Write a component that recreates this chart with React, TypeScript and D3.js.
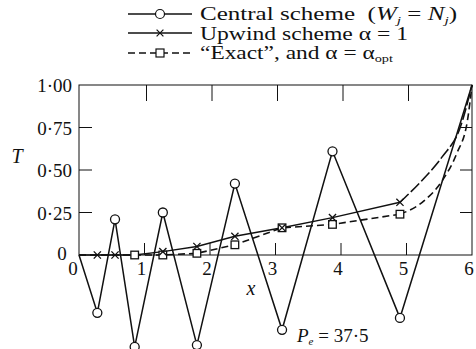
import * as d3 from "d3";

// grid nodes (x) and the three solutions
const nodes = [0, 0.28, 0.55, 0.85, 1.28, 1.8, 2.38, 3.1, 3.87, 4.9, 6];
const central = [0, -0.34, 0.21, -0.54, 0.25, -0.53, 0.42, -0.44, 0.61, -0.37, 1.0];

const upwindX = [0, 0.28, 0.55, 0.85, 1.28, 1.8, 2.38, 3.1, 3.87, 4.9, 5.24, 5.55, 5.81, 6];
const upwindT = [0, 0, 0, 0, 0.02, 0.05, 0.11, 0.16, 0.22, 0.31, 0.44, 0.58, 0.74, 1.0];
const upwindMarked = [0.28, 0.55, 1.28, 1.8, 2.38, 3.1, 3.87, 4.9];

const exactX = [0, 0.85, 1.28, 1.8, 2.38, 3.1, 3.87, 4.9, 5.24, 5.55, 5.77, 5.93, 6];
const exactT = [0, 0, 0, 0.01, 0.06, 0.16, 0.18, 0.24, 0.31, 0.44, 0.6, 0.79, 1.0];
const exactMarked = [0.85, 1.28, 1.8, 2.38, 3.1, 3.87, 4.9];

// last grid node before the curved boundary-layer part
const lastNode = 4.9;

const yTicks = [0.25, 0.5, 0.75];
const yTickLabels = ["0·25", "0·50", "0·75"];
const xTicks = [1, 2, 3, 4, 5];
const xTickLabels = ["1", "2", "3", "4", "5", "6"];

const W = 476;
const H = 349;
const ink = "#111";
const serif = '"Liberation Serif", "DejaVu Serif", serif';

export default function App() {
    const x = d3.scaleLinear().domain([0, 6]).range([79, 472]);
    const y = d3.scaleLinear().domain([0, 1]).range([255, 85]);

    const linePath = (xv: number[], tv: number[], curve: d3.CurveFactory) =>
        d3
            .line<number>()
            .x((d, i) => x(xv[i]))
            .y((d) => y(d))
            .curve(curve)(tv) ?? "";

    // straight between grid nodes / smooth into the boundary layer
    const head = (xv: number[], tv: number[]) => {
        const k = xv.indexOf(lastNode);
        return linePath(xv.slice(0, k + 1), tv.slice(0, k + 1), d3.curveLinear);
    };
    const tail = (xv: number[], tv: number[]) => {
        const k = xv.indexOf(lastNode);
        return linePath(xv.slice(k), tv.slice(k), d3.curveMonotoneX);
    };

    const at = (xv: number[], tv: number[], v: number) => tv[xv.indexOf(v)];

    const cross = (cx: number, cy: number, s = 3.6) =>
        `M${cx - s},${cy - s}L${cx + s},${cy + s}M${cx - s},${cy + s}L${cx + s},${cy - s}`;

    const [x0, x1] = x.range();
    const [y0, y1] = y.range();

    return (
        <svg
            width={W}
            height={H}
            style={{ position: "absolute", left: 0, top: 0, background: "#fff", fontFamily: serif }}
        >
            {/* frame */}
            <rect x={x0} y={y1} width={x1 - x0} height={y0 - y1} fill="none" stroke={ink} strokeWidth={1} />

            {/* inward ticks */}
            {yTicks.map((t) => (
                <g key={"yt" + t}>
                    <line x1={x0} x2={x0 + 13} y1={y(t)} y2={y(t)} stroke={ink} />
                    <line x1={x1} x2={x1 - 12} y1={y(t)} y2={y(t)} stroke={ink} />
                </g>
            ))}
            {xTicks.map((t) => (
                <g key={"xt" + t}>
                    <line x1={x(t) + 2} x2={x(t) + 2} y1={y1} y2={y1 + 16} stroke={ink} />
                    <line x1={x(t)} x2={x(t)} y1={y0} y2={y0 - 12} stroke={ink} />
                </g>
            ))}

            {/* y tick labels */}
            <text x={72} y={y(1) + 7} fontSize={19} textAnchor="end" fill={ink}>
                1·00
            </text>
            {yTicks.map((t, i) => (
                <text key={"yl" + t} x={72} y={y(t) + 7} fontSize={19} textAnchor="end" fill={ink}>
                    {yTickLabels[i]}
                </text>
            ))}
            <text x={62} y={y(0) + 5} fontSize={19} textAnchor="middle" fill={ink}>
                0
            </text>

            {/* x tick labels */}
            <text x={73} y={y(0) + 20} fontSize={19} textAnchor="middle" fill={ink}>
                0
            </text>
            {xTickLabels.map((l, i) => (
                <text key={"xl" + l} x={x(i + 1) - 3} y={y(0) + 20} fontSize={19} textAnchor="middle" fill={ink}>
                    {l}
                </text>
            ))}

            {/* axis titles */}
            <text x={17} y={163} fontSize={20} fontStyle="italic" textAnchor="middle" fill={ink}>
                T
            </text>
            <text x={251} y={295} fontSize={20} fontStyle="italic" textAnchor="middle" fill={ink}>
                x
            </text>
            <text x={297} y={342} fontSize={19} fill={ink}>
                <tspan fontStyle="italic">P</tspan>
                <tspan fontSize={11} fontStyle="italic" dy={3}>e</tspan>
                <tspan dy={-3}> = 37·5</tspan>
            </text>

            {/* exact / optimum: dashed with squares */}
            <path
                d={head(exactX, exactT) + tail(exactX, exactT)}
                fill="none"
                stroke={ink}
                strokeWidth={1.6}
                strokeDasharray="7,4"
            />
            {/* upwind: solid with crosses, long dashes in the boundary layer */}
            <path d={head(upwindX, upwindT)} fill="none" stroke={ink} strokeWidth={1.4} />
            <path d={tail(upwindX, upwindT)} fill="none" stroke={ink} strokeWidth={1.6} strokeDasharray="12,3" />
            {/* central scheme: zig-zag with circles */}
            <path d={linePath(nodes, central, d3.curveLinear)} fill="none" stroke={ink} strokeWidth={1.5} />

            {exactMarked.map((v) => (
                <rect
                    key={"sq" + v}
                    x={x(v) - 3.8}
                    y={y(at(exactX, exactT, v)) - 3.8}
                    width={7.6}
                    height={7.6}
                    fill="#fff"
                    stroke={ink}
                    strokeWidth={1.3}
                />
            ))}
            {upwindMarked.map((v) => (
                <path key={"cx" + v} d={cross(x(v), y(at(upwindX, upwindT, v)))} stroke={ink} strokeWidth={1.3} />
            ))}
            {nodes.slice(1, -1).map((v, i) => (
                <circle key={"c" + v} cx={x(v)} cy={y(central[i + 1])} r={4.5} fill="#fff" stroke={ink} strokeWidth={1.3} />
            ))}

            {/* legend */}
            <g>
                <line x1={128} x2={192} y1={14} y2={14} stroke={ink} strokeWidth={1.3} />
                <circle cx={160} cy={14} r={4.5} fill="#fff" stroke={ink} strokeWidth={1.2} />
                <text x={200} y={20} fontSize={18} fill={ink} textLength={257} lengthAdjust="spacingAndGlyphs">
                    Central scheme{"\u00a0\u00a0"}(<tspan fontStyle="italic">W</tspan>
                    <tspan fontSize={11} fontStyle="italic" dy={4}>j</tspan>
                    <tspan dy={-4}> = </tspan>
                    <tspan fontStyle="italic">N</tspan>
                    <tspan fontSize={11} fontStyle="italic" dy={4}>j</tspan>
                    <tspan dy={-4}>)</tspan>
                </text>

                <line x1={128} x2={192} y1={33} y2={33} stroke={ink} strokeWidth={1.3} />
                <path d={cross(160, 33, 3.4)} stroke={ink} strokeWidth={1.2} />
                <text x={200} y={40} fontSize={18} fill={ink} textLength={208} lengthAdjust="spacingAndGlyphs">
                    Upwind scheme α = 1
                </text>

                <line x1={128} x2={192} y1={53} y2={53} stroke={ink} strokeWidth={1.5} strokeDasharray="7,4" />
                <rect x={156} y={49} width={8} height={8} fill="#fff" stroke={ink} strokeWidth={1.2} />
                <text x={200} y={59} fontSize={18} fill={ink} textLength={193} lengthAdjust="spacingAndGlyphs">
                    “Exact”, and α = α<tspan fontSize={11} dy={3}>opt</tspan>
                </text>
            </g>
        </svg>
    );
}
